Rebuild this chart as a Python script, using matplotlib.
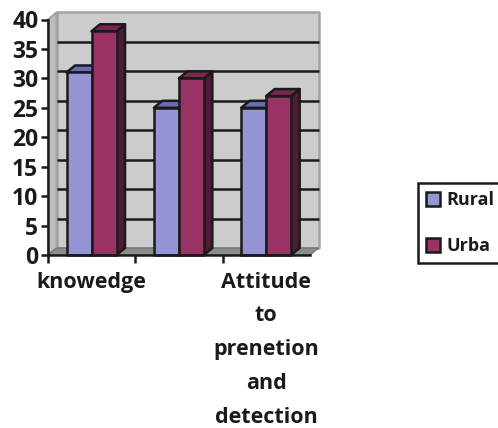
import matplotlib
matplotlib.use("Agg")
import matplotlib.pyplot as plt
from matplotlib.patches import Polygon, Patch

categories = ["knowedge", "", "Attitude\nto\nprenetion\nand\ndetection"]
rural = [31, 25, 25]
urban = [38, 30, 27]
series_labels = ["Rural", "Urba"]
y_ticks = [0, 5, 10, 15, 20, 25, 30, 35, 40]

BLUE, BLUE_TOP = "#9595d6", "#6a6cb8"
RED, RED_TOP, RED_SIDE = "#993366", "#7a2850", "#501a38"
INK = "#1a1a1a"

W, H = 498, 428
plt.rcParams["font.family"] = ["Open Sans", "DejaVu Sans"]
plt.rcParams["font.weight"] = "bold"

fig = plt.figure(figsize=(W / 100, H / 100), dpi=100)
ax = fig.add_axes([48 / W, (H - 255) / H, 262 / W, 235.5 / H])
ax.set_xlim(0, 3)
ax.set_ylim(0, 40)

# Oblique depth of the 3D box, in data units
dx = 8.5 / (262 / 3)
dy = 7 / (235.5 / 40)
bar_w = 25 / (262 / 3)
pad = 18.5 / (262 / 3)


def poly(pts, face, edge=INK, lw=1.8, z=2):
    ax.add_patch(Polygon(pts, closed=True, facecolor=face, edgecolor=edge,
                         linewidth=lw, zorder=z, clip_on=False, joinstyle="round"))


# Walls and floor
x_end = 3
poly([(dx, dy), (x_end + dx, dy), (x_end + dx, 40 + dy), (dx, 40 + dy)],
     "#cccccc", edge="#a3a3a3", lw=1.8, z=1)
poly([(0, 0), (dx, dy), (dx, 40 + dy), (0, 40)], "#bdbdbd", edge="#a3a3a3", lw=1.5, z=1)
poly([(0, 0), (x_end, 0), (x_end + dx, dy), (dx, dy)], "#8c8c8c", edge="#777777", lw=1, z=1.2)

# Gridlines on the back wall
for v in y_ticks[1:-1]:
    ax.plot([dx, x_end + dx], [v + dy, v + dy], color=INK, lw=1.8, zorder=1.5,
            clip_on=False, solid_capstyle="butt")


def bar3d(x, v, face, top, side, z):
    poly([(x + bar_w, 0), (x + bar_w + dx, dy), (x + bar_w + dx, v + dy), (x + bar_w, v)], side, z=z)
    poly([(x, v), (x + dx, v + dy), (x + bar_w + dx, v + dy), (x + bar_w, v)], top, z=z)
    poly([(x, 0), (x + bar_w, 0), (x + bar_w, v), (x, v)], face, z=z + 0.1)


for i in range(len(categories)):
    bar3d(i + pad, rural[i], BLUE, BLUE_TOP, "#55558f", 3)
    bar3d(i + pad + bar_w, urban[i], RED, RED_TOP, RED_SIDE, 4)

# Axes
for s in ("top", "right"):
    ax.spines[s].set_visible(False)
for s in ("left", "bottom"):
    ax.spines[s].set_linewidth(1.8)
    ax.spines[s].set_color(INK)
    ax.spines[s].set_zorder(6)
ax.patch.set_alpha(0)
ax.set_yticks(y_ticks)
ax.tick_params(axis="y", length=5, width=1.8, color=INK, labelcolor=INK, labelsize=16.5, pad=2)
ax.set_xticks([0, 1, 2, 3], ["", "", "", ""])
ax.tick_params(axis="x", length=6, width=1.8, color=INK)
ax.xaxis.get_major_ticks()[-1].set_visible(False)

# Category labels sit under the middle of each group
for i, label in enumerate(categories):
    ax.annotate(label, xy=(i + 0.5, 0), xytext=(0, -12), textcoords="offset points",
                ha="center", va="top", fontsize=15.5, color=INK, linespacing=1.8,
                annotation_clip=False)

# Legend box running off the right edge
fig.legend(handles=[Patch(facecolor=BLUE, edgecolor=INK, linewidth=1.8),
                    Patch(facecolor=RED, edgecolor=INK, linewidth=1.8)],
           labels=series_labels, loc="upper left", mode="expand",
           bbox_to_anchor=(417.5 / W, (H - 183) / H, 110 / W, 0), bbox_transform=fig.transFigure,
           frameon=True, fancybox=False, edgecolor=INK, framealpha=1,
           fontsize=13, labelcolor=INK, handlelength=0.8, handleheight=0.8,
           handletextpad=0.33, labelspacing=1.55, borderpad=0.45, borderaxespad=0,
           ).get_frame().set_linewidth(1.8)

fig.savefig("out.png", dpi=100, facecolor="white")
